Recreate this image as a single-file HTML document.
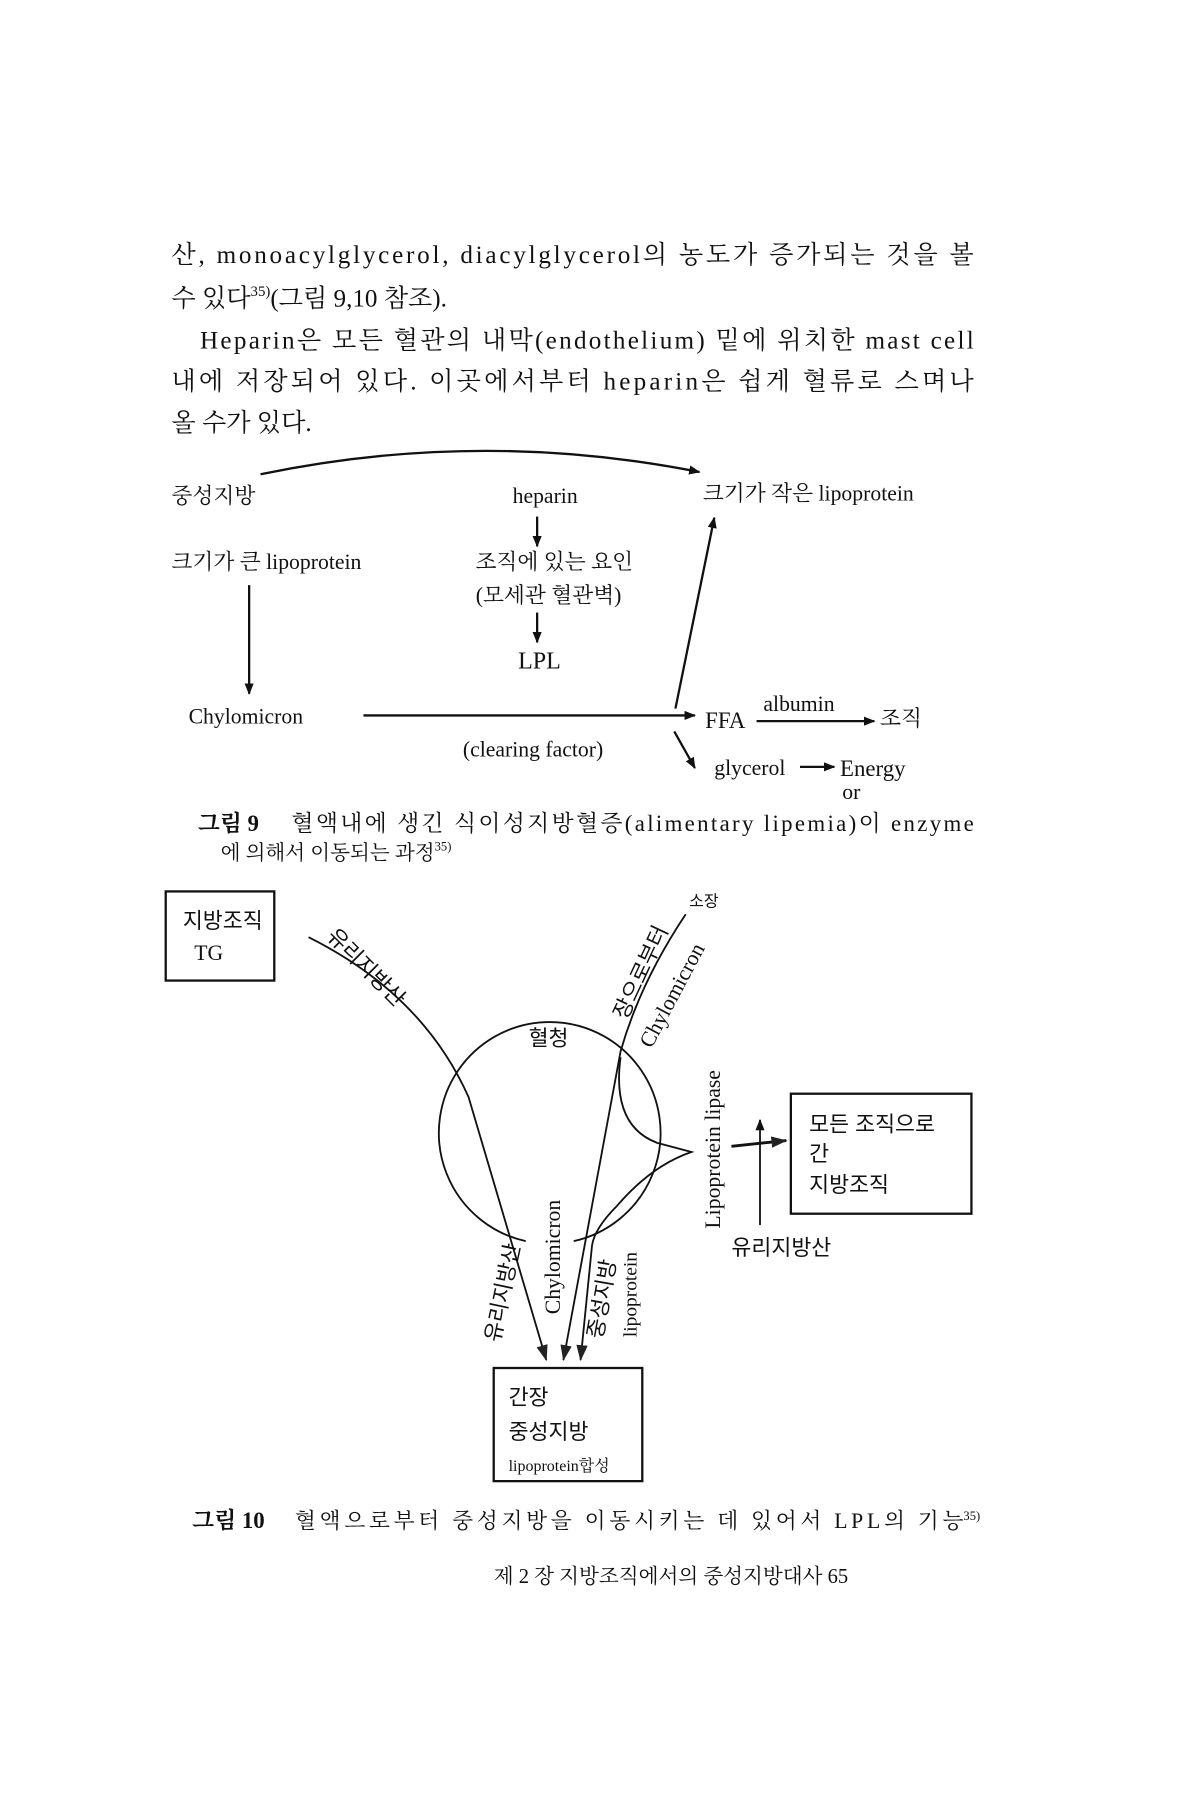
<!DOCTYPE html>
<html><head><meta charset="utf-8"><style>
html,body{margin:0;padding:0;background:#fff;}
svg{display:block;}
text{font-family:"Liberation Serif","Noto Serif CJK SC","Noto Sans CJK KR",serif;fill:#111;}
.k{font-family:"Liberation Sans","Noto Sans CJK KR",sans-serif;}
</style></head><body>
<svg width="1200" height="1800" viewBox="0 0 1050 1575" xmlns="http://www.w3.org/2000/svg">
<defs>
<marker id="a" markerWidth="10" markerHeight="8" refX="9" refY="4" orient="auto" markerUnits="userSpaceOnUse">
<path d="M0,0 L10,4 L0,8 z" fill="#111"/></marker>
<marker id="b" markerWidth="14" markerHeight="10" refX="13" refY="5" orient="auto" markerUnits="userSpaceOnUse">
<path d="M0,0 L14,5 L0,10 z" fill="#222"/></marker>
</defs>
<g font-size="22">
<text x="150" y="230" textLength="702" lengthAdjust="spacing">산, monoacylglycerol, diacylglycerol의 농도가 증가되는 것을 볼</text>
<text x="150" y="268">수 있다<tspan font-size="13" dy="-9">35)</tspan><tspan dy="9">(그림 9,10 참조).</tspan></text>
<text x="175" y="305" textLength="677" lengthAdjust="spacing">Heparin은 모든 혈관의 내막(endothelium) 밑에 위치한 mast cell</text>
<text x="150" y="341" textLength="702" lengthAdjust="spacing">내에 저장되어 있다. 이곳에서부터 heparin은 쉽게 혈류로 스며나</text>
<text x="150" y="377">올 수가 있다.</text>
</g>
<g fill="none" stroke="#111" stroke-width="2">
<path d="M228,415 Q420,375 612,413" marker-end="url(#a)"/>
<line x1="470" y1="452" x2="470" y2="478" marker-end="url(#a)"/>
<line x1="470" y1="536" x2="470" y2="562" marker-end="url(#a)"/>
<line x1="218" y1="512" x2="218" y2="607" marker-end="url(#a)"/>
<line x1="318" y1="626" x2="608" y2="626" marker-end="url(#a)"/>
<line x1="591" y1="620" x2="625" y2="453" marker-end="url(#a)"/>
<line x1="662" y1="631" x2="765" y2="631" marker-end="url(#a)"/>
<line x1="590" y1="640" x2="608" y2="672" marker-end="url(#a)"/>
<line x1="700" y1="671" x2="730" y2="671" marker-end="url(#a)"/>
</g>
<g font-size="19">
<text x="150" y="440">중성지방</text>
<text x="477" y="440" text-anchor="middle">heparin</text>
<text x="615" y="438">크기가 작은 lipoprotein</text>
<text x="150" y="498">크기가 큰 lipoprotein</text>
<text x="485" y="498" text-anchor="middle">조직에 있는 요인</text>
<text x="480" y="527" text-anchor="middle">(모세관 혈관벽)</text>
<text x="472" y="585" text-anchor="middle" font-size="21">LPL</text>
<text x="165" y="633">Chylomicron</text>
<text x="405" y="662">(clearing factor)</text>
<text x="617" y="637" font-size="20">FFA</text>
<text x="668" y="622">albumin</text>
<text x="770" y="635">조직</text>
<text x="625" y="678">glycerol</text>
<text x="735" y="679" font-size="20">Energy</text>
<text x="737" y="699">or</text>
</g>
<text x="173" y="727" font-size="20" font-weight="bold">그림 9</text>
<text x="255" y="727" font-size="20" textLength="597" lengthAdjust="spacing">혈액내에 생긴 식이성지방혈증(alimentary lipemia)이 enzyme</text>
<text x="193" y="752" font-size="18">에 의해서 이동되는 과정<tspan font-size="11" dy="-8">35)</tspan></text>
<g fill="none" stroke="#111" stroke-width="1.6">
<rect x="145" y="780" width="95" height="78" stroke-width="2"/>
<rect x="692" y="957" width="158" height="105" stroke-width="2"/>
<rect x="432" y="1197" width="130" height="99" stroke-width="2"/>
<path d="M460,1086 A97,97 0 1,1 502,1086"/>
<path d="M270,820 Q370,870 410,960 L478,1190" marker-end="url(#b)"/>
<path d="M600,800 Q560,860 543,920 L493,1190" marker-end="url(#b)"/>
<path d="M543,925 Q535,985 575,1000 L605,1008 Q570,1020 540,1055 Q520,1075 518,1090 L508,1190" marker-end="url(#b)"/>
<line x1="640" y1="1003" x2="688" y2="998" stroke-width="2.5" marker-end="url(#b)"/>
<line x1="665" y1="1072" x2="665" y2="980" marker-end="url(#a)"/>
</g>
<g font-size="19">
<text x="160" y="812" class="k">지방조직</text>
<text x="170" y="840">TG</text>
<text x="603" y="793" font-size="14" class="k">소장</text>
<text x="480" y="915" text-anchor="middle" class="k">혈청</text>
<text transform="translate(285,820) rotate(45)" class="k">유리지방산</text>
<text transform="translate(548,893) rotate(-65)" class="k">장으로부터</text>
<text transform="translate(570,918) rotate(-62)">Chylomicron</text>
<text transform="translate(630,1075) rotate(-90)">Lipoprotein lipase</text>
<text x="708" y="990" class="k">모든 조직으로</text>
<text x="708" y="1016" class="k">간</text>
<text x="708" y="1043" class="k">지방조직</text>
<text x="640" y="1098" class="k">유리지방산</text>
<text transform="translate(437,1175) rotate(-78)" class="k">유리지방산</text>
<text transform="translate(490,1150) rotate(-90)">Chylomicron</text>
<text transform="translate(527,1172) rotate(-80)" class="k">중성지방</text>
<text transform="translate(557,1170) rotate(-90)" font-size="17">lipoprotein</text>
<text x="445" y="1229" class="k">간장</text>
<text x="445" y="1259" class="k">중성지방</text>
<text x="445" y="1287" font-size="14">lipoprotein합성</text>
</g>
<text x="168" y="1337" font-size="20" font-weight="bold">그림 10</text>
<text x="258" y="1337" font-size="19" textLength="585" lengthAdjust="spacing">혈액으로부터 중성지방을 이동시키는 데 있어서 LPL의 기능</text>
<text x="843" y="1330" font-size="11">35)</text>
<text x="432" y="1385" font-size="18">제 2 장  지방조직에서의 중성지방대사  65</text>
</svg>
</body></html>
